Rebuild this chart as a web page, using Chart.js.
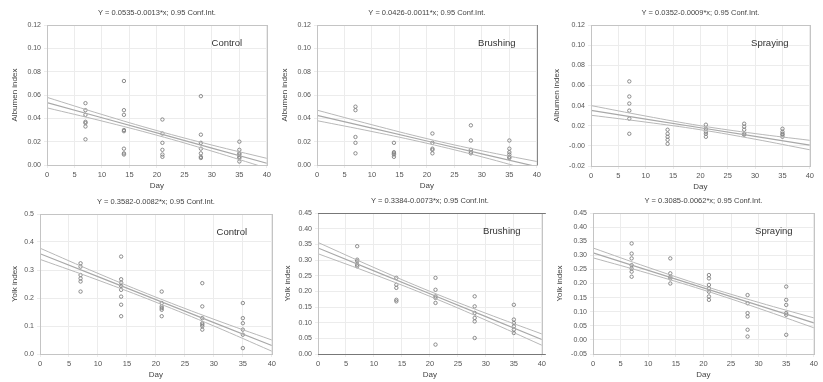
<!DOCTYPE html>
<html><head><meta charset="utf-8">
<script src="https://cdn.jsdelivr.net/npm/chart.js@4/dist/chart.umd.min.js"></script>
<style>
html,body{margin:0;padding:0;background:#fff;}
#wrap{position:relative;width:823px;height:382px;overflow:hidden;background:#fff;}
canvas{position:absolute;}
</style></head><body><div id="wrap"></div>
<script>
// ---- data ----
const days = [7, 14, 21, 28, 35];
const xTicks = [0, 5, 10, 15, 20, 25, 30, 35, 40];
const bandX = [0, 10, 20, 30, 40];

const titles = [
  "Y = 0.0535-0.0013*x; 0.95 Conf.Int.",
  "Y = 0.0426-0.0011*x; 0.95 Conf.Int.",
  "Y = 0.0352-0.0009*x; 0.95 Conf.Int.",
  "Y = 0.3582-0.0082*x; 0.95 Conf.Int.",
  "Y = 0.3384-0.0073*x; 0.95 Conf.Int.",
  "Y = 0.3085-0.0062*x; 0.95 Conf.Int."
];
const treatments = ["Control", "Brushing", "Spraying", "Control", "Brushing", "Spraying"];
const yTitles = ["Albumen index", "Albumen index", "Albumen index", "Yolk index", "Yolk index", "Yolk index"];

const albControl = [
  [0.053, 0.047, 0.043, 0.037, 0.036, 0.033, 0.022],
  [0.072, 0.047, 0.043, 0.030, 0.029, 0.014, 0.010, 0.009],
  [0.039, 0.027, 0.019, 0.013, 0.009, 0.007],
  [0.059, 0.026, 0.019, 0.014, 0.010, 0.007, 0.006],
  [0.020, 0.013, 0.010, 0.009, 0.007, 0.006, 0.003]
];
const albBrushing = [
  [0.050, 0.047, 0.024, 0.019, 0.010],
  [0.019, 0.011, 0.010, 0.009, 0.007],
  [0.027, 0.019, 0.014, 0.013, 0.010],
  [0.034, 0.021, 0.013, 0.011, 0.010],
  [0.021, 0.014, 0.011, 0.009, 0.007, 0.006]
];
const albSpraying = [
  [0.064, 0.049, 0.042, 0.035, 0.027, 0.012],
  [0.016, 0.012, 0.009, 0.006, 0.002],
  [0.021, 0.017, 0.014, 0.012, 0.009],
  [0.022, 0.019, 0.016, 0.012, 0.011],
  [0.017, 0.014, 0.012, 0.011, 0.009]
];
const yolkControl = [
  [0.324, 0.312, 0.282, 0.270, 0.259, 0.223],
  [0.348, 0.267, 0.255, 0.243, 0.229, 0.205, 0.176, 0.135],
  [0.223, 0.182, 0.170, 0.164, 0.158, 0.135],
  [0.253, 0.170, 0.128, 0.110, 0.105, 0.099, 0.087],
  [0.182, 0.128, 0.110, 0.087, 0.069, 0.021]
];
const yolkBrushing = [
  [0.344, 0.301, 0.296, 0.285, 0.280],
  [0.243, 0.221, 0.211, 0.173, 0.168],
  [0.243, 0.205, 0.184, 0.179, 0.163, 0.030],
  [0.184, 0.152, 0.131, 0.115, 0.104, 0.051],
  [0.157, 0.110, 0.099, 0.088, 0.078, 0.067]
];
const yolkSpraying = [
  [0.342, 0.306, 0.289, 0.265, 0.253, 0.242, 0.224],
  [0.289, 0.236, 0.224, 0.218, 0.200],
  [0.230, 0.218, 0.195, 0.183, 0.171, 0.154, 0.142],
  [0.159, 0.130, 0.095, 0.083, 0.036, 0.012],
  [0.189, 0.142, 0.124, 0.095, 0.089, 0.018]
];

const fitLines = [
  [0.0535, 0.0405, 0.0275, 0.0145, 0.0015],
  [0.0426, 0.0316, 0.0206, 0.0096, -0.0014],
  [0.0352, 0.0266, 0.0180, 0.0094, 0.0008],
  [0.3582, 0.2762, 0.1942, 0.1122, 0.0302],
  [0.3384, 0.2654, 0.1924, 0.1194, 0.0464],
  [0.3085, 0.2465, 0.1845, 0.1225, 0.0605]
];
const upperBands = [
  [0.058, 0.0433, 0.0295, 0.0171, 0.0057],
  [0.047, 0.0345, 0.0226, 0.0122, 0.0030],
  [0.040, 0.0296, 0.0200, 0.0122, 0.0055],
  [0.378, 0.288, 0.203, 0.124, 0.050],
  [0.356, 0.276, 0.200, 0.130, 0.064],
  [0.326, 0.257, 0.192, 0.133, 0.078]
];
const lowerBands = [
  [0.049, 0.0377, 0.0255, 0.0119, -0.0027],
  [0.038, 0.0287, 0.0186, 0.0070, -0.0060],
  [0.0304, 0.0236, 0.0160, 0.0066, -0.0039],
  [0.338, 0.264, 0.185, 0.100, 0.010],
  [0.320, 0.254, 0.184, 0.108, 0.028],
  [0.291, 0.236, 0.177, 0.112, 0.043]
];
const yMin = [0, 0, -0.02, 0, 0, -0.05];
const yMax = [0.12, 0.12, 0.12, 0.5, 0.45, 0.45];
const yStep = [0.02, 0.02, 0.02, 0.1, 0.05, 0.05];
const yDecimals = [2, 2, 2, 1, 2, 2];
const seriesSets = [albControl, albBrushing, albSpraying, yolkControl, yolkBrushing, yolkSpraying];

// ---- layout (pixel positions of plot areas) ----
const layout = [
  {pl: 47, pt: 25, pr: 267, pb: 165, yw: 37},
  {pl: 317, pt: 25, pr: 537, pb: 165, yw: 37},
  {pl: 591, pt: 25, pr: 810, pb: 166, yw: 39},
  {pl: 40, pt: 214, pr: 272, pb: 354, yw: 30},
  {pl: 318, pt: 213, pr: 542, pb: 354, yw: 35},
  {pl: 593, pt: 213, pr: 814, pb: 354, yw: 38}
];
const PADT = 22, PADR = 6, XH = 26;
const FONT = "'Liberation Sans', Arial, sans-serif";
Chart.defaults.font.family = FONT;
Chart.defaults.color = '#555';

const annot = {
  id: 'annot',
  afterDraw(chart, args, o) {
    const {ctx, chartArea: a} = chart;
    ctx.save();
    ctx.strokeStyle = '#c4c4c4';
    ctx.lineWidth = 1;
    ctx.strokeRect(Math.round(a.left) + 0.5, Math.round(a.top) + 0.5, Math.round(a.right - a.left), Math.round(a.bottom - a.top));
    if (o.darkTop) {
      ctx.strokeStyle = '#777';
      ctx.beginPath(); ctx.moveTo(a.left, Math.round(a.top) + 0.5); ctx.lineTo(a.right + 4, Math.round(a.top) + 0.5); ctx.stroke();
      ctx.beginPath(); ctx.moveTo(a.left, Math.round(a.bottom) + 0.5); ctx.lineTo(a.right + 4, Math.round(a.bottom) + 0.5); ctx.stroke();
    }
    if (o.darkRight) {
      ctx.strokeStyle = '#888';
      ctx.beginPath(); ctx.moveTo(Math.round(a.right) + 0.5, a.top); ctx.lineTo(Math.round(a.right) + 0.5, a.bottom); ctx.stroke();
    }
    ctx.fillStyle = '#444';
    ctx.textAlign = 'center';
    ctx.textBaseline = 'middle';
    ctx.font = '7.5px ' + FONT;
    ctx.fillText(o.title, (a.left + a.right) / 2, a.top - 12);
    ctx.font = '9.5px ' + FONT;
    ctx.fillStyle = '#333';
    ctx.fillText(o.label, a.right - 40, a.top + 18);
    ctx.restore();
  }
};

const wrap = document.getElementById('wrap');
for (let i = 0; i < 6; i++) {
  const L = layout[i];
  const cv = document.createElement('canvas');
  const left = L.pl - L.yw, top = L.pt - PADT;
  const w = L.yw + (L.pr - L.pl) + PADR, h = PADT + (L.pb - L.pt) + XH;
  cv.width = w; cv.height = h;
  cv.style.left = left + 'px'; cv.style.top = top + 'px';
  cv.style.width = w + 'px'; cv.style.height = h + 'px';
  wrap.appendChild(cv);

  const pts = [];
  seriesSets[i].forEach((vals, k) => vals.forEach(v => pts.push({x: days[k], y: v})));
  const line = arr => bandX.map((x, k) => ({x, y: arr[k]}));

  new Chart(cv, {
    type: 'scatter',
    data: {
      datasets: [
        {data: line(upperBands[i]), showLine: true, pointRadius: 0, borderColor: '#b8b8b8', borderWidth: 1, tension: 0.4},
        {data: line(lowerBands[i]), showLine: true, pointRadius: 0, borderColor: '#b8b8b8', borderWidth: 1, tension: 0.4},
        {data: line(fitLines[i]), showLine: true, pointRadius: 0, borderColor: '#a8a8a8', borderWidth: 1.2, tension: 0},
        {data: pts, pointRadius: 1.7, pointBorderWidth: 0.9, pointBorderColor: '#808080', pointBackgroundColor: 'rgba(255,255,255,0)', showLine: false}
      ]
    },
    options: {
      responsive: false, animation: false, devicePixelRatio: 1,
      layout: {padding: {top: PADT, right: PADR, left: 0, bottom: 0}},
      plugins: {legend: {display: false}, tooltip: {enabled: false},
        annot: {title: titles[i], label: treatments[i], darkTop: i === 4, darkRight: i === 1}},
      scales: {
        x: {
          type: 'linear', min: 0, max: 40,
          afterBuildTicks: s => { s.ticks = xTicks.map(v => ({value: v})); },
          afterFit: s => { s.height = XH; },
          grid: {color: '#ececec', tickLength: 3, drawTicks: true},
          border: {display: false},
          ticks: {font: {size: 7.5}, padding: 2, color: '#555', maxRotation: 0},
          title: {display: true, text: 'Day', font: {size: 8}, padding: 0, color: '#444'}
        },
        y: {
          type: 'linear', min: yMin[i], max: yMax[i],
          ticks: {stepSize: yStep[i], font: {size: 7}, padding: 3, color: '#555',
                  callback: v => Number(v).toFixed(yDecimals[i])},
          afterFit: s => { s.width = L.yw; },
          grid: {color: '#ececec', tickLength: 3},
          border: {display: false},
          title: {display: true, text: yTitles[i], font: {size: 8}, padding: 0, color: '#444'}
        }
      }
    },
    plugins: [annot]
  });
}
</script></body></html>
